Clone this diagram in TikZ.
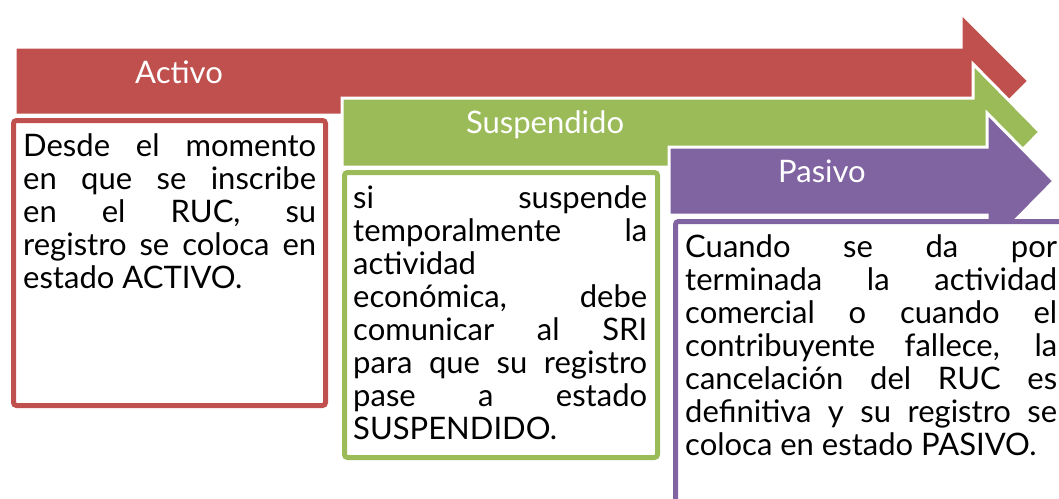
\documentclass[tikz,border=0pt]{standalone}
\usepackage{fontspec}
\setmainfont{Lato}
\usetikzlibrary{positioning}
\definecolor{rojo}{HTML}{C0504D}
\definecolor{verde}{HTML}{9BBB59}
\definecolor{morado}{HTML}{8064A2}
\tikzstyle{flecha} = [draw=white, line width=3pt, line join=miter]
\tikzstyle{caja} = [rectangle, rounded corners=3pt, line width=5pt, outer sep=0pt, fill=white, anchor=north west]
\tikzstyle{texto} = [inner sep=0pt, align=justify, font=\fontsize{31}{33}\selectfont]
\tikzstyle{titulo} = [text=white, anchor=base, font=\fontsize{31}{32}\selectfont]

\begin{document}
\begin{tikzpicture}[x=1pt, y=-1pt]
    \useasboundingbox (0,0) rectangle (1059,498);
    \clip (0,0) rectangle (1059,498);
    \fill [white] (0,0) rectangle (1059,498);
    % flechas
    \draw [flecha, fill=rojo] (15,47) -- (961,47) -- (961,13) -- (1029,81) -- (961,149) -- (961,115) -- (15,115) -- cycle;
    \draw [flecha, fill=verde] (342,98) -- (973,98) -- (973,64) -- (1040,132) -- (973,200) -- (973,167) -- (342,167) -- cycle;
    \draw [flecha, fill=morado] (669,147) -- (987,147) -- (987,113) -- (1054,181) -- (987,249) -- (987,215) -- (669,215) -- cycle;
    \node (activo) [titulo] at (179,83) {Activo};
    \node (suspendido) [titulo] at (545,133) {Suspendido};
    \node (pasivo) [titulo] at (822,182) {Pasivo};
    % cajas
    \node (cajaActivo) [caja, draw=rojo, minimum width=312pt, minimum height=285pt] at (13.5,120.5) {};
    \node (cajaSuspendido) [caja, draw=verde, minimum width=313pt, minimum height=285pt] at (344.5,172.5) {};
    \node (cajaPasivo) [caja, draw=morado, minimum width=420pt, minimum height=300pt] at (675.5,221.5) {};
    \node (txtActivo) [texto, text width=293pt, below right=12.5pt and 9.5pt of cajaActivo.north west] {Desde el momento\linebreak en que se inscribe\linebreak en el RUC, su\linebreak registro se coloca en\linebreak estado ACTIVO.};
    \node (txtSuspendido) [texto, text width=294pt, below right=12.5pt and 8.5pt of cajaSuspendido.north west] {si suspende\linebreak temporalmente la\linebreak actividad\linebreak económica, debe\linebreak comunicar al SRI\linebreak para que su registro\linebreak pase a estado\linebreak SUSPENDIDO.};
    \node (txtPasivo) [texto, text width=372pt, below right=12.5pt and 9.5pt of cajaPasivo.north west] {Cuando se da por\linebreak terminada la actividad\linebreak comercial o cuando el\linebreak contribuyente fallece, la\linebreak cancelación del RUC es\linebreak definitiva y su registro se\linebreak coloca en estado PASIVO.};
\end{tikzpicture}
\end{document}
